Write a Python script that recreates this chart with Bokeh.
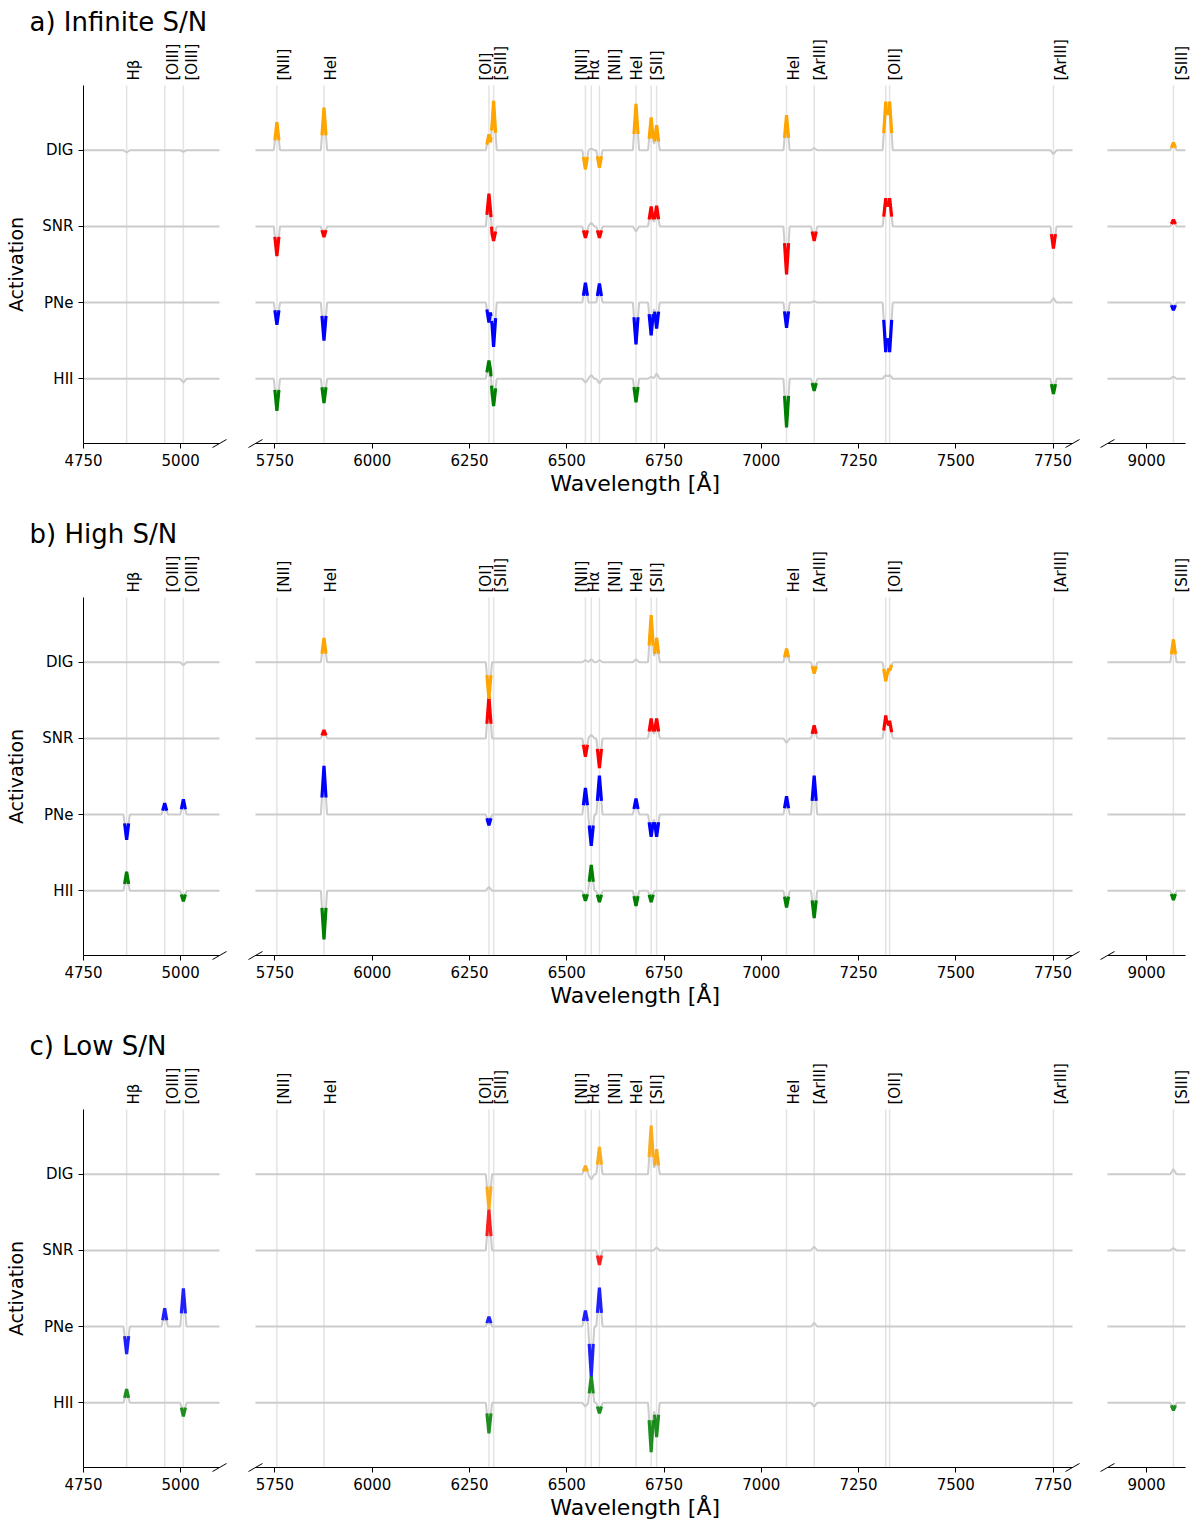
import numpy as np
from bokeh.plotting import figure
from bokeh.models import ColumnDataSource, FixedTicker, Label, LabelSet
from bokeh.core.properties import value
from bokeh.layouts import row, column
from bokeh.embed import file_html
from bokeh.resources import INLINE

# emission line wavelengths (Angstrom)
line_wl = [4861, 4959, 5007, 5755, 5876, 6300, 6312, 6548, 6563, 6584,
           6678, 6717, 6731, 7065, 7136, 7320, 7330, 7751, 9069]

# labels drawn above the axes and where they sit
label_text = ["Hβ", "[OIII]", "[OIII]", "[NII]", "HeI", "[OI]", "[SIII]", "[NII]", "Hα",
              "[NII]", "HeI", "[SII]", "HeI", "[ArIII]", "[OII]", "[ArIII]", "[SIII]"]
label_x = [4881, 4980, 5028, 5774, 5894, 6293, 6331, 6539, 6571,
           6624, 6680, 6732, 7083, 7152, 7344, 7770, 9091]

class_names = ["HII", "PNe", "SNR", "DIG"]

# peak activation at each line (one unit = row spacing)
a_dig = [-0.03, 0, -0.02, 0.37, 0.56, 0.21, 0.65, -0.25, 0.02, -0.23, 0.61, 0.43, 0.33, 0.46, 0.03, 0.64, 0.64, -0.05, 0.10]
a_snr = [0, 0, 0, -0.39, -0.14, 0.43, -0.19, -0.15, 0.05, -0.15, -0.07, 0.26, 0.27, -0.63, -0.19, 0.37, 0.37, -0.29, 0.09]
a_pne = [0, 0, 0, -0.29, -0.50, -0.26, -0.58, 0.26, 0, 0.25, -0.55, -0.43, -0.34, -0.33, 0.02, -0.65, -0.65, 0.06, -0.10]
a_hii = [0, 0, -0.05, -0.42, -0.32, 0.24, -0.36, -0.05, 0.05, -0.06, -0.31, 0.03, 0.07, -0.64, -0.16, 0.05, 0.05, -0.20, 0.03]

b_dig = [0, 0, -0.04, 0, 0.32, -0.48, 0, 0.03, 0.04, 0.03, 0.04, 0.62, 0.32, 0.18, -0.15, -0.25, -0.11, 0, 0.30]
b_snr = [0, 0, 0, 0, 0.11, 0.55, 0, -0.24, 0.05, -0.39, 0, 0.26, 0.26, -0.06, 0.17, 0.30, 0.23, 0, 0]
b_pne = [-0.33, 0.15, 0.20, 0, 0.64, -0.14, 0, 0.35, -0.41, 0.51, 0.21, -0.29, -0.29, 0.24, 0.51, 0, 0, 0, 0]
b_hii = [0.25, 0, -0.14, 0, -0.64, 0.05, 0, -0.13, 0.34, -0.15, -0.20, -0.15, 0, -0.22, -0.36, 0, 0, 0, -0.12]

c_dig = [0, 0, 0, 0, 0, -0.46, 0, 0.11, -0.07, 0.36, 0, 0.64, 0.33, 0, 0, 0, 0, 0, 0.07]
c_snr = [0, 0, 0, 0, 0, 0.54, 0, 0, 0, -0.19, 0, 0, 0.04, 0, 0.05, 0, 0, 0, 0.03]
c_pne = [-0.36, 0.24, 0.50, 0, 0, 0.13, 0, 0.21, -0.65, 0.51, 0, 0, 0, 0, 0.05, 0, 0, 0, 0]
c_hii = [0.18, 0, -0.18, 0, 0, -0.40, 0, -0.05, 0.35, -0.14, 0, -0.65, -0.45, 0, -0.05, 0, 0, 0, -0.10]

panels = [
    ("a) Infinite S/N", [a_hii, a_pne, a_snr, a_dig], 1.0),
    ("b) High S/N", [b_hii, b_pne, b_snr, b_dig], 1.0),
    ("c) Low S/N", [c_hii, c_pne, c_snr, c_dig], 0.85),
]

colors = ["green", "blue", "red", "orange"]
FONT = "DejaVu Sans"
HW = 8.0      # half width of a line profile in Angstrom
FRAC = 0.35   # part of a peak drawn in colour
THR = 0.08    # smallest peak that gets a colour
Y0, Y1 = -0.85, 3.85
AX_H = 358    # pixel height of the axes
TOP = [85, 84, 84]
BOTTOM = [70, 70, 56]

# the three broken x-axis pieces: range, ticks, axes width, space left / right
pieces = [
    ((4750, 5100), [4750, 5000], 136, 83, 18),
    ((5700, 7800), [5750, 6000, 6250, 6500, 6750, 7000, 7250, 7500, 7750], 817, 18, 17),
    ((8900, 9100), [9000], 78, 18, 7),
]


def curve(amps, xs):
    out = []
    for x in xs:
        v = 0.0
        for wl, a in zip(line_wl, amps):
            v += a * max(0.0, 1 - abs(x - wl) / HW)
        out.append(v)
    return out


def style_axis(ax):
    ax.minor_tick_line_color = None
    ax.major_tick_in = 0
    ax.major_tick_out = 5
    ax.major_label_standoff = 5
    ax.major_label_text_font = FONT
    ax.major_label_text_font_size = "15px"
    ax.major_label_text_color = "black"
    ax.axis_line_color = "black"
    ax.major_tick_line_color = "black"


def make_piece(k, i, title, series, alpha):
    (lo, hi), ticks, aw, bl, br = pieces[k]
    top, bottom = TOP[i], BOTTOM[i]
    sx = aw / (hi - lo)
    sy = AX_H / (Y1 - Y0)
    p = figure(x_range=(lo - bl / sx, hi + br / sx),
               y_range=(Y0 - bottom / sy, Y1 + top / sy),
               frame_width=bl + aw + br, frame_height=top + AX_H + bottom,
               min_border=0, toolbar_location=None, output_backend="svg",
               y_axis_location="left" if k == 0 else None)
    p.outline_line_color = None
    p.xgrid.visible = False
    p.ygrid.visible = False

    ax = p.xaxis[0]
    ax.ticker = FixedTicker(ticks=ticks)
    ax.fixed_location = Y0
    ax.bounds = (lo, hi)
    style_axis(ax)

    if k == 0:
        ay = p.yaxis[0]
        ay.ticker = FixedTicker(ticks=[0, 1, 2, 3])
        ay.major_label_overrides = {j: n for j, n in enumerate(class_names)}
        ay.fixed_location = lo
        ay.bounds = (Y0, Y1)
        style_axis(ay)
        ay.axis_label = "Activation"
        ay.axis_label_text_font = FONT
        ay.axis_label_text_font_size = "19px"
        ay.axis_label_text_font_style = "normal"
        ay.axis_label_text_color = "black"
        ay.axis_label_standoff = 12
        p.add_layout(Label(x=lo - 54 / sx, y=Y1 + 64 / sy, text=title,
                           text_font=FONT, text_font_size="26px", text_color="black",
                           text_baseline="middle", text_align="left"))
    if k == 1:
        p.add_layout(Label(x=6676, y=Y0 - 40 / sy, text="Wavelength [Å]",
                           text_font=FONT, text_font_size="22px", text_color="black",
                           text_baseline="middle", text_align="center"))

    wls = [wl for wl in line_wl if lo <= wl <= hi]
    p.segment(x0=wls, y0=[Y0] * len(wls), x1=wls, y1=[Y1] * len(wls),
              line_color="#e3e3e3", line_width=1.5)

    lx = [x for x in label_x if lo <= x <= hi]
    lt = [t for x, t in zip(label_x, label_text) if lo <= x <= hi]
    src = ColumnDataSource(dict(x=lx, y=[Y1 + 5 / sy] * len(lx), text=lt))
    p.add_layout(LabelSet(x="x", y="y", text="text", source=src, angle=np.pi / 2,
                          text_align="left", text_baseline="middle",
                          text_font=value(FONT), text_font_size=value("15px"),
                          text_color="black"))

    for off, amps in enumerate(series):
        pts = {lo, hi}
        for wl, a in zip(line_wl, amps):
            if a != 0 and lo <= wl <= hi:
                pts.update([wl - HW, wl, wl + HW])
        xs = sorted(pts)
        ys = [off + v for v in curve(amps, xs)]
        p.line(xs, ys, line_color="#cccccc", line_width=2)

    for off, amps in enumerate(series):
        for wl, a in zip(line_wl, amps):
            if abs(a) < THR or not (lo <= wl <= hi):
                continue
            c0, c1 = wl - HW * (1 - FRAC), wl + HW * (1 - FRAC)
            inner = set()
            for w2 in line_wl:
                for q in (w2 - HW, w2, w2 + HW):
                    if c0 < q < c1:
                        inner.add(q)
            xs = [c0] + sorted(inner) + [c1]
            ys = [off + v for v in curve(amps, xs)]
            p.line(xs, ys, line_color=colors[off], line_width=3.2, line_alpha=alpha)

    # break marks at the bottom corners
    dx, dy = 7 / sx, 4 / sy
    ends = []
    if k < 2:
        ends.append(hi)
    if k > 0:
        ends.append(lo)
    p.segment(x0=[e - dx for e in ends], y0=[Y0 - dy] * len(ends),
              x1=[e + dx for e in ends], y1=[Y0 + dy] * len(ends),
              line_color="black", line_width=1)
    return p


rows = []
for i, (title, series, alpha) in enumerate(panels):
    rows.append(row(*[make_piece(k, i, title, series, alpha) for k in range(3)]))

layout = column(*rows)
open("out.html", "w").write(file_html(layout, INLINE))
